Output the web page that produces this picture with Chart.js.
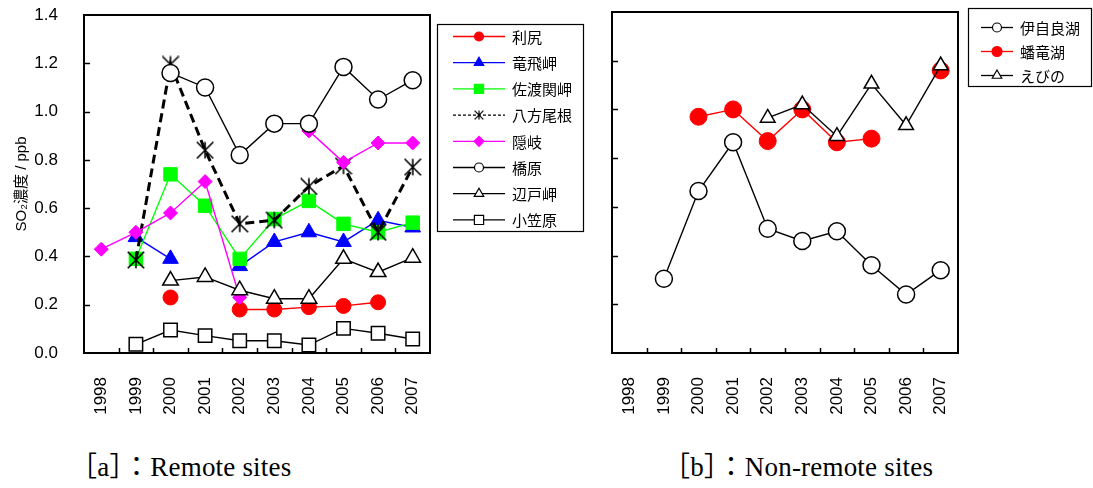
<!DOCTYPE html>
<html>
<head>
<meta charset="utf-8">
<script src="https://cdn.jsdelivr.net/npm/chart.js@4.4.1/dist/chart.umd.min.js"></script>
<style>
  html, body { margin: 0; padding: 0; background: #fff; width: 1093px; height: 488px; overflow: hidden; position: relative; }
  canvas { position: absolute; top: 0; }
  #chartA { left: 0; }
  #chartB { left: 600px; }
  .cap { position: absolute; top: 445px; font: 27px "Liberation Serif", "Noto Sans CJK JP", serif; letter-spacing: 0.2px; color: #000; white-space: nowrap; }
</style>
</head>
<body>
<canvas id="chartA" width="600" height="440"></canvas>
<canvas id="chartB" width="493" height="440"></canvas>
<div class="cap" style="left:70px">［a］：Remote sites</div>
<div class="cap" style="left:663px">［b］：Non-remote sites</div>
<script>
// Years on the category axis
const years = ['1998', '1999', '2000', '2001', '2002', '2003', '2004', '2005', '2006', '2007'];

// Y axis ticks (ppb)
const yTicks = [0, 0.2, 0.4, 0.6, 0.8, 1.0, 1.2, 1.4];

// [a] Remote sites — SO2 annual mean (ppb)
const remoteSites = ['利尻', '竜飛岬', '佐渡関岬', '八方尾根', '隠岐', '橋原', '辺戸岬', '小笠原'];
const rishiri   = [null, null, 0.23, null, 0.18, 0.18, 0.19, 0.195, 0.21, null];
const tappi     = [null, 0.48, 0.39, null, 0.36, 0.46, 0.50, 0.46, 0.55, 0.52];
const sado      = [null, 0.39, 0.74, 0.61, 0.39, 0.555, 0.63, 0.535, 0.50, 0.54];
const happo     = [null, 0.385, 1.195, 0.84, 0.535, 0.55, 0.69, 0.775, 0.50, 0.77];
const oki       = [0.43, 0.50, 0.58, 0.71, 0.23, null, 0.92, 0.79, 0.87, 0.87];
const yusuhara  = [null, null, 1.16, 1.10, 0.82, 0.95, 0.95, 1.185, 1.05, 1.13];
const hedo      = [null, null, 0.30, 0.315, 0.26, 0.225, 0.225, 0.39, 0.335, 0.395];
const ogasawara = [null, 0.036, 0.095, 0.072, 0.051, 0.051, 0.033, 0.102, 0.082, 0.058];

// [b] Non-remote sites — SO2 annual mean (ppb)
const nonRemoteSites = ['伊自良湖', '蟠竜湖', 'えびの'];
const ijira   = [null, 0.305, 0.665, 0.865, 0.51, 0.46, 0.50, 0.36, 0.24, 0.34];
const banryu  = [null, null, 0.97, 1.00, 0.87, 1.00, 0.865, 0.88, null, 1.16];
const ebino   = [null, null, null, null, 0.965, 1.02, 0.89, 1.105, 0.935, 1.18];

// Six-armed asterisk marker (vertical stroke + X)
function asteriskMarker(size, lw) {
  const c = document.createElement('canvas');
  c.width = c.height = size;
  const g = c.getContext('2d');
  g.strokeStyle = '#000';
  g.lineWidth = lw;
  const m = size / 2, r = size / 2 - lw / 2;
  g.beginPath();
  g.moveTo(m, m - r); g.lineTo(m, m + r);
  g.moveTo(m - r, m - r); g.lineTo(m + r, m + r);
  g.moveTo(m + r, m - r); g.lineTo(m - r, m + r);
  g.stroke();
  return c;
}
const starBig = asteriskMarker(18, 1.6);
const starSmall = asteriskMarker(10, 1.2);

function series(label, data, s) {
  return {
    label, data,
    borderColor: s.color,
    borderWidth: s.lw || 1.4,
    borderDash: s.dash || [],
    backgroundColor: s.fill,
    pointStyle: s.style,
    pointRadius: s.r,
    pointBorderColor: s.pointBorder || s.color,
    pointBackgroundColor: s.fill,
    pointBorderWidth: s.pbw || 1,
    tension: 0,
    spanGaps: false,
    legend: s.legend
  };
}

const datasetsA = [
  series(remoteSites[0], rishiri,   { color: '#FF0000', fill: '#FF0000', style: 'circle',   r: 7.5, legend: { style: 'circle', r: 4.5 } }),
  series(remoteSites[1], tappi,     { color: '#0000FF', fill: '#0000FF', style: 'triangle', r: 9,   legend: { style: 'triangle', r: 5.5 } }),
  series(remoteSites[2], sado,      { color: '#00FF00', fill: '#00FF00', style: 'rect',     r: 9.5, legend: { style: 'rect', r: 6.5 } }),
  series(remoteSites[3], happo,     { color: '#000000', fill: '#000000', style: starBig,    r: 8, lw: 3, dash: [9, 5], legend: { style: starSmall, r: 5, dash: [3, 2] } }),
  series(remoteSites[4], oki,       { color: '#FF00FF', fill: '#FF00FF', style: 'rectRot',  r: 7,   legend: { style: 'rectRot', r: 5 } }),
  series(remoteSites[5], yusuhara,  { color: '#000000', fill: '#FFFFFF', style: 'circle',   r: 8.5, pbw: 1.5, legend: { style: 'circle', r: 4.5 } }),
  series(remoteSites[6], hedo,      { color: '#000000', fill: '#FFFFFF', style: 'triangle', r: 9,   pbw: 1.5, legend: { style: 'triangle', r: 5.5 } }),
  series(remoteSites[7], ogasawara, { color: '#000000', fill: '#FFFFFF', style: 'rect',     r: 9.5, pbw: 1.5, legend: { style: 'rect', r: 6.5 } })
];

const datasetsB = [
  series(nonRemoteSites[0], ijira,  { color: '#000000', fill: '#FFFFFF', style: 'circle',   r: 8.5, pbw: 1.5, legend: { style: 'circle', r: 4.5 } }),
  series(nonRemoteSites[1], banryu, { color: '#FF0000', fill: '#FF0000', style: 'circle',   r: 8.5, legend: { style: 'circle', r: 5 } }),
  series(nonRemoteSites[2], ebino,  { color: '#000000', fill: '#FFFFFF', style: 'triangle', r: 8.5, pbw: 1.5, legend: { style: 'triangle', r: 5.5 } })
];

// later series drawn on top, as in a spreadsheet chart
function stackOrder(list) { list.forEach((d, i) => { d.order = list.length - i; }); return list; }
stackOrder(datasetsA);
stackOrder(datasetsB);

// Simple marker drawing for the legend box
function legendMarker(ctx, style, x, y, r, fill, stroke, bw) {
  if (style instanceof HTMLCanvasElement) {
    ctx.drawImage(style, x - style.width / 2, y - style.height / 2);
    return;
  }
  ctx.beginPath();
  if (style === 'circle') {
    ctx.arc(x, y, r, 0, Math.PI * 2);
  } else if (style === 'triangle') {
    for (let k = 0; k < 3; k++) {
      const a = -Math.PI / 2 + k * 2 * Math.PI / 3;
      const px = x + Math.cos(a) * r, py = y + Math.sin(a) * r;
      k ? ctx.lineTo(px, py) : ctx.moveTo(px, py);
    }
    ctx.closePath();
  } else if (style === 'rect') {
    const s = r * Math.SQRT1_2;
    ctx.rect(x - s, y - s, 2 * s, 2 * s);
  } else if (style === 'rectRot') {
    ctx.moveTo(x - r, y); ctx.lineTo(x, y - r); ctx.lineTo(x + r, y); ctx.lineTo(x, y + r);
    ctx.closePath();
  }
  ctx.fillStyle = fill; ctx.fill();
  ctx.lineWidth = bw; ctx.strokeStyle = stroke; ctx.stroke();
}

// Plot frame, inward tick marks and the boxed legend
const framePlugin = {
  id: 'frame',
  afterDraw(chart, args, o) {
    const { ctx, chartArea: a, scales } = chart;
    const x = scales.x, y = scales.y;
    ctx.save();
    ctx.strokeStyle = '#000';
    ctx.lineWidth = 1.5;
    ctx.setLineDash([]);
    ctx.beginPath();
    y.ticks.forEach(t => {
      if (t.value > y.min && t.value < y.max) {
        const py = Math.round(y.getPixelForValue(t.value)) + 0.5;
        ctx.moveTo(a.left, py); ctx.lineTo(a.left + 6, py);
      }
    });
    const n = x.ticks.length;
    for (let i = 1; i < n; i++) {
      const px = Math.round(a.left + (a.right - a.left) * i / n) + 0.5;
      ctx.moveTo(px, a.bottom); ctx.lineTo(px, a.bottom - 5);
    }
    ctx.stroke();
    ctx.lineWidth = 2;
    ctx.strokeRect(a.left, a.top, a.right - a.left, a.bottom - a.top);

    // legend box
    const L = o.box;
    ctx.lineWidth = 1.2;
    ctx.strokeRect(L.x + 0.5, L.y + 0.5, L.w, L.h);
    chart.data.datasets.forEach((ds, i) => {
      const yy = L.row0 + i * L.step;
      ctx.beginPath();
      ctx.setLineDash(ds.legend.dash || []);
      ctx.lineWidth = 1.3;
      ctx.strokeStyle = ds.borderColor;
      ctx.moveTo(L.s0, yy + 0.5); ctx.lineTo(L.s1, yy + 0.5);
      ctx.stroke();
      ctx.setLineDash([]);
      legendMarker(ctx, ds.legend.style, (L.s0 + L.s1) / 2, yy + 0.5, ds.legend.r,
        ds.pointBackgroundColor, ds.pointBorderColor, 1.2);
      ctx.fillStyle = '#000';
      ctx.font = '15px "Noto Sans CJK JP", sans-serif';
      ctx.textBaseline = 'middle';
      ctx.textAlign = 'left';
      ctx.fillText(ds.label, L.tx, yy + 1);
    });
    ctx.restore();
  }
};

function buildOptions(cfg) {
  return {
    responsive: false,
    animation: false,
    devicePixelRatio: 1,
    layout: { padding: cfg.padding },
    plugins: {
      legend: { display: false },
      tooltip: { enabled: false },
      frame: { box: cfg.box }
    },
    scales: {
      x: {
        type: 'category',
        offset: true,
        grid: { display: false },
        border: { display: false },
        ticks: {
          color: '#000',
          font: { family: '"Liberation Sans", Arial, sans-serif', size: 17 },
          minRotation: 90, maxRotation: 90, autoSkip: false, padding: 16
        },
        afterFit(s) { s.height = cfg.xHeight; s.paddingLeft = 0; s.paddingRight = 0; }
      },
      y: {
        min: yTicks[0],
        max: yTicks[yTicks.length - 1],
        grid: { display: false },
        border: { display: false },
        afterBuildTicks(s) { s.ticks = yTicks.map(v => ({ value: v })); },
        ticks: {
          display: cfg.yLabels,
          color: '#000',
          font: { family: '"Liberation Sans", Arial, sans-serif', size: 17 },
          padding: 18,
          callback: v => v.toFixed(1)
        },
        title: {
          display: cfg.yLabels,
          text: 'SO₂濃度 / ppb',
          color: '#000',
          font: { family: '"Liberation Sans", "Noto Sans CJK JP", sans-serif', size: 15 },
          padding: { top: 13, bottom: 0 }
        },
        afterFit(s) { s.width = cfg.yWidth; s.paddingTop = 0; s.paddingBottom = 0; }
      }
    }
  };
}

new Chart(document.getElementById('chartA'), {
  type: 'line',
  data: { labels: years, datasets: datasetsA },
  options: buildOptions({
    padding: { top: 15, right: 170, left: 0, bottom: 0 },
    xHeight: 87, yWidth: 84, yLabels: true,
    box: { x: 437, y: 24, w: 146, h: 207, row0: 36, step: 26.2, s0: 453, s1: 505, tx: 512 }
  }),
  plugins: [framePlugin]
});

new Chart(document.getElementById('chartB'), {
  type: 'line',
  data: { labels: years, datasets: datasetsB },
  options: buildOptions({
    padding: { top: 12, right: 135, left: 0, bottom: 0 },
    xHeight: 87, yWidth: 12, yLabels: false,
    box: { x: 368, y: 8, w: 123, h: 78, row0: 27, step: 24, s0: 381, s1: 413, tx: 420 }
  }),
  plugins: [framePlugin]
});
</script>
</body>
</html>
